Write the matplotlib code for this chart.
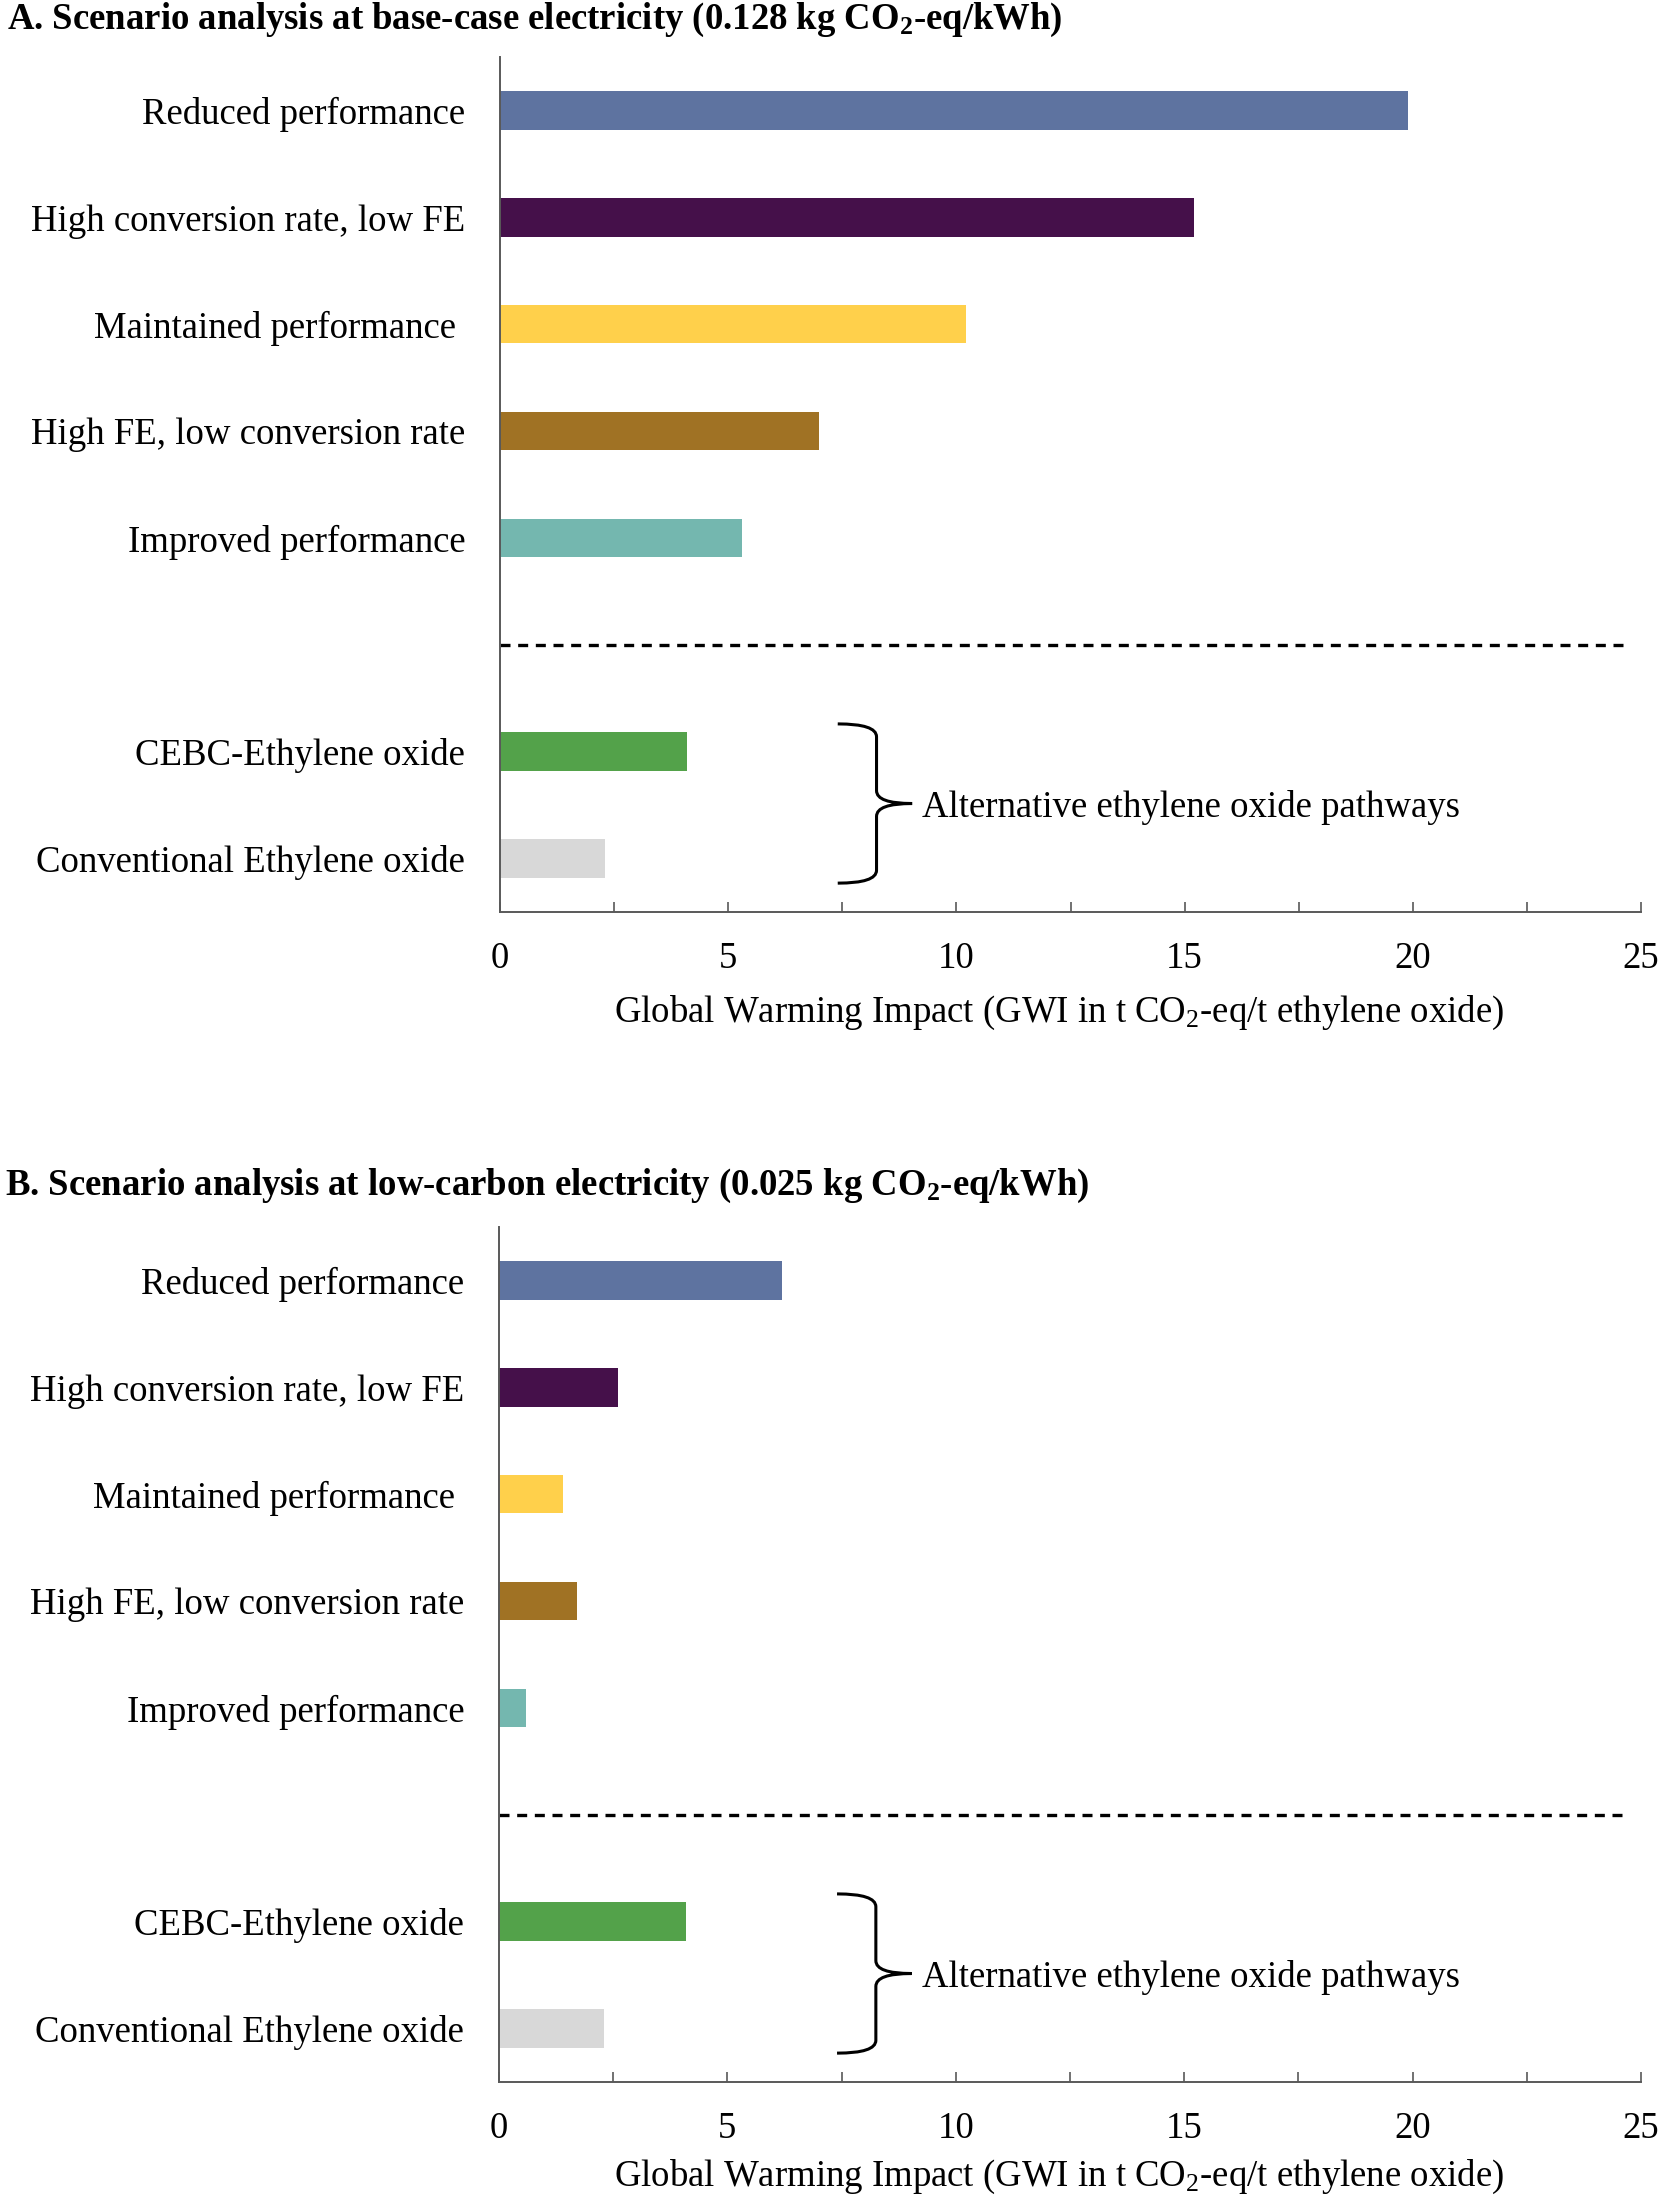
import matplotlib
matplotlib.use("Agg")
import matplotlib.pyplot as plt
from matplotlib.path import Path
from matplotlib.patches import PathPatch
import numpy as np

plt.rcParams['font.family'] = ['Liberation Serif', 'DejaVu Serif']
plt.rcParams['mathtext.fontset'] = 'custom'
plt.rcParams['mathtext.rm'] = 'Liberation Serif'
plt.rcParams['mathtext.it'] = 'Liberation Serif:italic'
plt.rcParams['mathtext.bf'] = 'Liberation Serif:bold'

# ---------------- data ----------------
categories = ["Reduced performance", "High conversion rate, low FE",
              "Maintained performance ", "High FE, low conversion rate",
              "Improved performance", "CEBC-Ethylene oxide",
              "Conventional Ethylene oxide"]
positions = [0, 1, 2, 3, 4, 6, 7]
colors = ["#5E73A0", "#45104A", "#FFD04B", "#A07224", "#74B7AF", "#53A24A", "#D8D8D8"]
values_base = [19.9, 15.2, 10.2, 7.0, 5.3, 4.1, 2.3]
values_low = [6.2, 2.6, 1.4, 1.7, 0.6, 4.1, 2.3]
x_ticks = [0, 5, 10, 15, 20, 25]
title_a = r"A. Scenario analysis at base-case electricity (0.128 kg CO$_\mathbf{2}$-eq/kWh)"
title_b = r"B. Scenario analysis at low-carbon electricity (0.025 kg CO$_\mathbf{2}$-eq/kWh)"
xlabel = r"Global Warming Impact (GWI in t CO$_2$-eq/t ethylene oxide)"
brace_text = "Alternative ethylene oxide pathways"
separator_pos = 5
separator_end = 24.7

FS = 26.5

fig = plt.figure(figsize=(16.59, 21.98), dpi=100)
W, H = 1659, 2198


def brace(ax, y0, y1, xl, xv, xt, lw=2.2):
    ym = (y0 + y1) / 2
    c = 0.12
    verts = [(xl, y0), (xv, y0), (xv, y0 + c),
             (xv, ym - c),
             (xv, ym), (xt, ym),
             (xv, ym), (xv, ym + c),
             (xv, y1 - c),
             (xv, y1), (xl, y1)]
    codes = [Path.MOVETO, Path.CURVE3, Path.CURVE3,
             Path.LINETO,
             Path.CURVE3, Path.CURVE3,
             Path.CURVE3, Path.CURVE3,
             Path.LINETO,
             Path.CURVE3, Path.CURVE3]
    ax.add_patch(PathPatch(Path(verts, codes), facecolor='none',
                           edgecolor='black', lw=lw, clip_on=False))


def panel(ax, values, label_y):
    ax.barh(positions, values, height=0.36, color=colors, edgecolor='none')
    ax.set_xlim(0, 25)
    ax.set_ylim(7.5, -0.5)
    ax.set_yticks(positions)
    ax.set_yticklabels(categories, fontsize=FS)
    ax.set_xticks(x_ticks)
    ax.set_xticks(np.arange(2.5, 25, 5), minor=True)
    ax.set_xticklabels([str(t) for t in x_ticks], fontsize=FS)
    ax.tick_params(axis='y', length=0, pad=25)
    ax.tick_params(axis='x', which='both', direction='in', length=7.5,
                   width=1.2, color='#595959', pad=21)
    for s in ['top', 'right']:
        ax.spines[s].set_visible(False)
    for s in ['left', 'bottom']:
        ax.spines[s].set_color('#595959')
        ax.spines[s].set_linewidth(1.4)
    ax.hlines(separator_pos, 0, separator_end, colors='black',
              linestyles=(0, (3, 2.3)), lw=2.4)
    ax.set_xlabel(xlabel, fontsize=FS, va='center')
    ax.xaxis.set_label_coords(0.49, label_y)
    # brace around the alternative pathways
    y0 = positions[5] - 0.26
    y1 = positions[6] + 0.23
    brace(ax, y0, y1, 7.4, 8.25, 9.03)
    ax.text(9.25, (y0 + y1) / 2, brace_text, fontsize=FS, va='center_baseline',
            ha='left')


axA = fig.add_axes([500 / W, 1 - 912 / H, (1641 - 500) / W, (912 - 57) / H])
panel(axA, values_base, -(1013 - 912) / (912 - 57))
axB = fig.add_axes([499 / W, 1 - 2082 / H, (1641 - 499) / W, (2082 - 1227) / H])
panel(axB, values_low, -(2177 - 2082) / (2082 - 1227))

fig.text(7 / W, 1 - 20 / H, title_a, fontsize=FS, fontweight='bold',
         va='center', ha='left')
fig.text(5 / W, 1 - 1186 / H, title_b, fontsize=FS, fontweight='bold',
         va='center', ha='left')

fig.savefig("out.png", dpi=100)
